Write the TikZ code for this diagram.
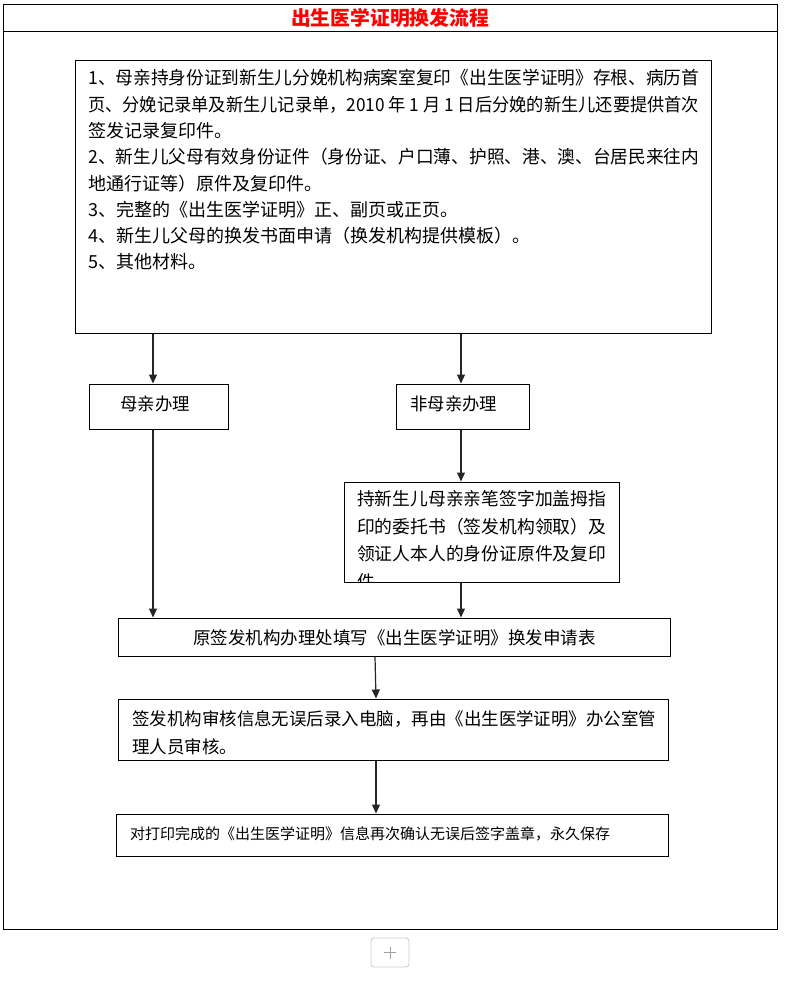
\documentclass[tikz,border=0pt]{standalone}
\usepackage{fontspec}
\usepackage{graphicx}
\newfontfamily\cjk{Noto Sans CJK SC}
\usetikzlibrary{arrows.meta}
\newcommand\fsz[1]{\cjk\fontsize{#1}{#1}\selectfont}
\newcommand\fitline[2]{\resizebox{#1}{\height}{#2}}
\begin{document}
\begin{tikzpicture}[x=1pt,y=-1pt,
  box/.style={draw=black, line width=1pt, rectangle, inner sep=0pt},
  arr/.style={draw=black!85, line width=1.2pt, -{Triangle[length=9pt,width=8pt]}},
  txt/.style={inner sep=0pt, anchor=base west}]
\useasboundingbox (0,0) rectangle (785,999);
\fill[white] (0,0) rectangle (785,999);
% frame and title
\node[box, minimum width=774, minimum height=925] (frame) at (390,466.5) {};
\node[box, minimum width=774, minimum height=27, text=red, font={\fsz{19.8}\bfseries}] (titlebar) at (390,17.5) {出生医学证明换发流程};
% boxes
\node[box, minimum width=636, minimum height=273] (req) at (393,196.5) {};
\node[box, minimum width=139, minimum height=45] (mom) at (158.5,406.5) {};
\node[box, minimum width=133, minimum height=45] (nonmom) at (462.5,406.5) {};
\node[box, minimum width=275, minimum height=100] (proxy) at (481.5,532) {};
\node[box, minimum width=552, minimum height=38] (form) at (394,637) {};
\node[box, minimum width=550, minimum height=61] (review) at (393,729.5) {};
\node[box, minimum width=552, minimum height=42] (final) at (392,835) {};
\node[draw=gray!40, rounded corners=3pt, minimum width=38, minimum height=29, line width=0.8pt, inner sep=0pt] (plus) at (390,952.5) {};
\draw[gray!75, line width=1pt] ([xshift=-6pt]plus.center) -- ([xshift=6pt]plus.center);
\draw[gray!75, line width=1pt] ([yshift=-6pt]plus.center) -- ([yshift=6pt]plus.center);
% texts in req
\begin{scope}[every node/.style={txt, font=\fsz{18}}]
\node (r1) at (88,84.8) {\fitline{611pt}{1、母亲持身份证到新生儿分娩机构病案室复印《出生医学证明》存根、病历首}};
\node (r2) at (88,111.1) {\fitline{611pt}{页、分娩记录单及新生儿记录单，2010 年 1 月 1 日后分娩的新生儿还要提供首次}};
\node (r3) at (88,137.4) {签发记录复印件。};
\node (r4) at (88,163.7) {\fitline{611pt}{2、新生儿父母有效身份证件（身份证、户口薄、护照、港、澳、台居民来往内}};
\node (r5) at (88,190.0) {地通行证等）原件及复印件。};
\node (r6) at (88,216.3) {3、完整的《出生医学证明》正、副页或正页。};
\node (r7) at (88,242.6) {4、新生儿父母的换发书面申请（换发机构提供模板）。};
\node (r8) at (88,268.9) {5、其他材料。};
\end{scope}
\begin{scope}[every node/.style={txt, font=\fsz{17.4}}]
\node (tm) at (120,410.6) {母亲办理};
\node (tn) at (410,410.6) {非母亲办理};
\end{scope}
\begin{scope}[every node/.style={txt, font=\fsz{17.8}}]
\node (p1) at (357,505.8) {\fitline{249pt}{持新生儿母亲亲笔签字加盖拇指}};
\node (p2) at (357,533.3) {\fitline{249pt}{印的委托书（签发机构领取）及}};
\node (p3) at (357,560.8) {\fitline{249pt}{领证人本人的身份证原件及复印}};
\end{scope}
\begin{scope}
\clip ([shift={(1,1)}]proxy.north west) rectangle ([shift={(-1,-1)}]proxy.south east);
\node[txt, font=\fsz{17.8}] (p4) at (357,588.3) {件。};
\end{scope}
\node[inner sep=0pt, anchor=base, font=\fsz{17.5}] (tf) at (394.5,644.6) {原签发机构办理处填写《出生医学证明》换发申请表};
\begin{scope}[every node/.style={txt, font=\fsz{17.5}}]
\node (v1) at (132,725.6) {\fitline{524pt}{签发机构审核信息无误后录入电脑，再由《出生医学证明》办公室管}};
\node (v2) at (132,753.6) {理人员审核。};
\end{scope}
\node[txt, font=\fsz{15}] (tz) at (130,839.7) {对打印完成的《出生医学证明》信息再次确认无误后签字盖章，永久保存};
% connectors
\coordinate (xa) at (153,0);
\coordinate (xb) at (461,0);
\coordinate (xc) at (375,0);
\coordinate (xd) at (376,0);
\draw[arr] (req.south -| xa) -- (mom.north -| xa);
\draw[arr] (req.south -| xb) -- (nonmom.north -| xb);
\draw[arr] (mom.south -| xa) -- (form.north -| xa);
\draw[arr] (nonmom.south -| xb) -- (proxy.north -| xb);
\draw[arr] (proxy.south -| xb) -- (form.north -| xb);
\draw[arr] (form.south -| xc) -- (review.north -| xd);
\draw[arr] (review.south -| xd) -- (final.north -| xd);
\end{tikzpicture}
\end{document}
